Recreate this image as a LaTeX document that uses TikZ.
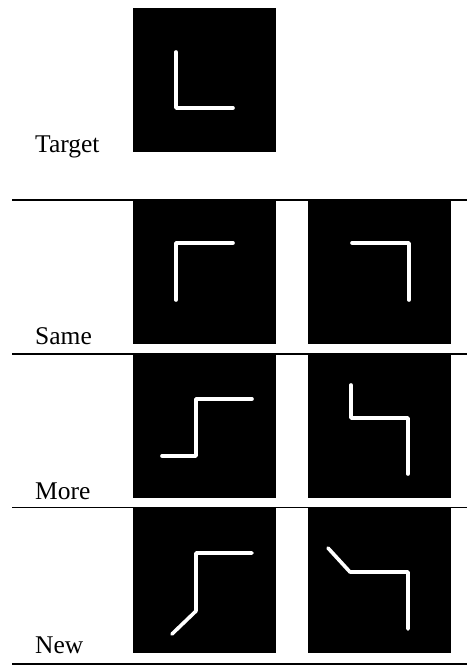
\documentclass[tikz,border=0pt]{standalone}
\usepackage{fontspec}
\setmainfont{Liberation Serif}
\usepackage{tikz}

\tikzset{
  tile/.style={fill=black, draw=none, inner sep=0pt, anchor=north west,
    minimum width=143pt, minimum height=144pt},
  glyph/.style={white, line width=3.6pt, line cap=round, line join=round},
  rowlabel/.style={anchor=base west, inner sep=0pt, font=\fontsize{25.5}{28}\selectfont},
  midrule/.style={line width=1.8pt},
  lastrule/.style={line width=2.8pt}
}

\begin{document}
\begin{tikzpicture}[x=1pt, y=-1pt]
\useasboundingbox (0,0) rectangle (467,666);
% row labels
\node[rowlabel] (lblTarget) at (35,152) {Target};
\node[rowlabel] (lblSame) at (35,344) {Same};
\node[rowlabel] (lblMore) at (35,499) {More};
\node[rowlabel] (lblNew) at (35,653) {New};
% tiles
\node[tile] (target) at (133,8) {};
\node[tile] (sameA) at (133,200) {};
\node[tile] (sameB) at (308,200) {};
\node[tile, minimum height=143pt] (moreA) at (133,355) {};
\node[tile, minimum height=143pt] (moreB) at (308,355) {};
\node[tile, minimum height=145pt] (newA) at (133,508) {};
\node[tile, minimum height=145pt] (newB) at (308,508) {};
% rules
\draw[midrule] (12,200) -- (467,200);
\draw[midrule] (12,354) -- (467,354);
\draw[midrule] (12,507.5) -- (467,507.5);
\draw[lastrule] (12,664) -- (467,664);
% strokes
\draw[glyph] (176,52) -- (176,108) -- (233,108);
\draw[glyph] (233,243) -- (176,243) -- (176,300);
\draw[glyph] (352,243) -- (409,243) -- (409,300);
\draw[glyph] (162,456) -- (196,456) -- (196,399) -- (252,399);
\draw[glyph] (351,385) -- (351,418) -- (408,418) -- (408,474);
\draw[glyph] (172,634) -- (196,611) -- (196,553) -- (252,553);
\draw[glyph] (328,548) -- (350,572) -- (408,572) -- (408,629);
\end{tikzpicture}
\end{document}
